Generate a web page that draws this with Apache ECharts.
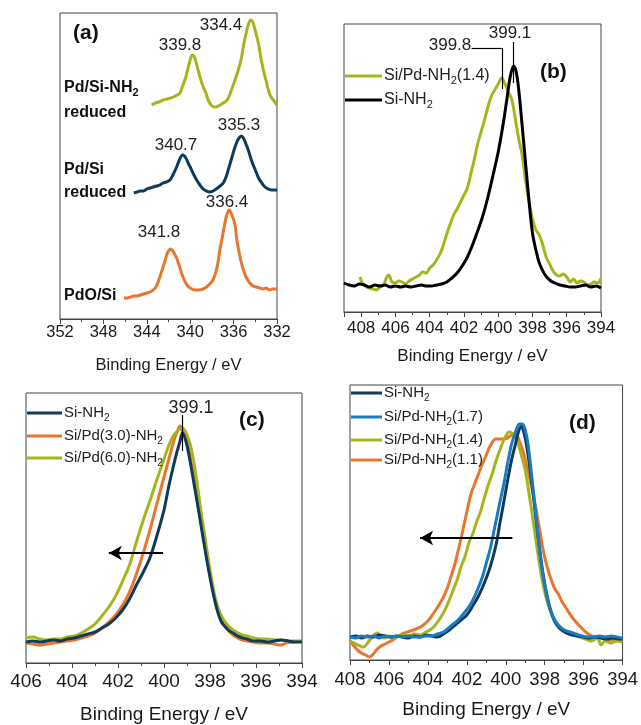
<!DOCTYPE html>
<html>
<head>
<meta charset="utf-8">
<script src="https://cdn.jsdelivr.net/npm/echarts@6/dist/echarts.min.js"></script>
<style>
html,body{margin:0;padding:0;background:#fff;}
#chart{width:641px;height:725px;}
</style>
</head>
<body>
<div id="chart"></div>
<script>
// ---------- DATA (binding energy eV, intensity a.u.) ----------
// Panel (a) Pd 3d
const aPdSiNH2 = [[343.55,214],[343.2,216],[342.9,217],[342.5,219],[342.1,220],[341.8,221],[341.55,222],[341.2,224],[340.94,226],[340.7,233],[340.4,242],[340.15,253],[339.95,261],[339.8,264],[339.6,262],[339.35,252],[339.1,242],[338.8,232],[338.55,226],[338.3,218],[338,213],[337.7,212],[337.4,213],[337.1,215],[336.8,217],[336.6,219],[336.4,223],[336.2,229],[335.9,238],[335.57,249],[335.3,260],[335.04,276],[334.8,288],[334.6,296],[334.4,299],[334.2,296],[334,288],[333.72,276],[333.5,262],[333.26,249],[333,238],[332.8,229],[332.6,223],[332.34,219],[332,214]];
const aPdSi = [[345.2,126],[344.9,127],[344.6,128],[344.3,128],[344,130],[343.7,131],[343.4,132],[343.1,133],[342.8,134],[342.5,136],[342.2,137],[341.86,139],[341.55,145],[341.25,152],[341,159],[340.7,164],[340.4,161],[340.15,155],[340,152],[339.7,145],[339.4,139],[339.1,134],[338.8,130],[338.5,128],[338.2,127],[337.9,128],[337.6,130],[337.25,133],[336.95,136],[336.7,142],[336.5,149],[336.2,160],[335.96,169],[335.7,177],[335.5,181],[335.3,183],[335.1,181],[334.9,176],[334.65,169],[334.3,157],[334,149],[333.7,141],[333.4,136],[333.1,132],[332.8,130],[332.5,129],[332,129]];
const aPdOSi = [[346.1,21],[345.8,21],[345.5,22],[345.2,23],[344.9,23],[344.6,24],[344.3,25],[344,26],[343.7,27],[343.4,29],[343.1,33],[342.8,42],[342.5,52],[342.3,59],[342.1,66],[341.8,70],[341.6,68],[341.4,64],[341.25,61],[341,53],[340.8,46],[340.5,38],[340.3,34],[340,31],[339.55,29],[339.2,29],[338.8,30],[338.5,32],[338.2,35],[337.9,39],[337.7,45],[337.5,53],[337.25,70],[337,84],[336.8,96],[336.6,105],[336.4,109],[336.2,105],[335.9,96],[335.7,79],[335.57,71],[335.3,57],[335.1,49],[334.8,41],[334.5,36],[334.2,33],[333.9,32],[333.6,31],[333.3,30],[333,31],[332.7,29],[332.4,30],[332,30]];
// Panel (b) N 1s
const bSiNH2 = [[409,29],[408.7,27],[408.4,26],[408.1,28],[407.8,27],[407.5,25],[407.2,27],[406.9,26],[406.6,27],[406.3,25],[406,26],[405.7,25],[405.4,26],[405.1,25],[404.8,26],[404.5,27],[404.2,26],[403.9,26],[403.6,27],[403.3,28],[403,30],[402.7,34],[402.4,39],[402.1,46],[401.8,55],[401.5,67],[401.2,81],[400.9,96],[400.6,115],[400.3,137],[400,160],[399.7,189],[399.5,212],[399.3,235],[399.1,246],[398.95,240],[398.8,222],[398.6,186],[398.4,148],[398.2,111],[398,79],[397.8,62],[397.6,49],[397.3,38],[397,32],[396.7,29],[396.4,27],[396.1,26],[395.8,25],[395.5,25],[395.2,26],[394.9,27],[394.6,25],[394.3,26],[394,24]];
const bSiPd14 = [[408.07,35],[407.9,28],[407.7,25],[407.5,24],[407.3,23],[407.1,22],[406.9,25],[406.7,27],[406.5,35],[406.4,37],[406.2,30],[406,29],[405.8,31],[405.6,30],[405.4,28],[405.2,31],[405,33],[404.8,35],[404.6,37],[404.4,40],[404.2,39],[404,44],[403.8,47],[403.6,52],[403.4,58],[403.2,67],[403,78],[402.8,88],[402.6,97],[402.4,103],[402.2,110],[402,117],[401.8,124],[401.6,138],[401.4,152],[401.2,168],[401,180],[400.8,192],[400.6,205],[400.4,216],[400.2,222],[400,228],[399.8,234],[399.6,228],[399.4,220],[399.2,212],[399,193],[398.8,173],[398.6,157],[398.4,131],[398.2,110],[398,93],[397.8,82],[397.6,77],[397.4,67],[397.2,55],[397,48],[396.8,41],[396.6,37],[396.4,36],[396.2,38],[396,35],[395.8,30],[395.6,33],[395.4,29],[395.2,31],[395,30],[394.8,27],[394.6,28],[394.4,30],[394.2,29],[394,34]];
// Panel (c)
const cSiNH2 = [[406,21],[405.7,22],[405.4,21],[405.1,22],[404.8,23],[404.5,22],[404.2,24],[403.9,25],[403.6,27],[403.3,29],[403,31],[402.7,35],[402.4,39],[402.1,45],[401.8,53],[401.5,64],[401.2,78],[400.9,91],[400.6,106],[400.3,128],[400,153],[399.8,176],[399.6,196],[399.45,210],[399.3,222],[399.2,230],[399.05,222],[398.9,206],[398.7,180],[398.5,153],[398.3,125],[398.1,98],[397.9,74],[397.7,54],[397.5,41],[397.2,33],[397,30],[396.7,26],[396.4,24],[396.1,22],[395.8,22],[395.5,21],[395.2,22],[394.9,23],[394.6,22],[394.3,21],[394,21]];
const cSiPd30 = [[406,20],[405.7,19],[405.4,18],[405.1,19],[404.8,20],[404.5,21],[404.2,22],[403.9,23],[403.6,25],[403.3,27],[403,30],[402.7,35],[402.4,41],[402.1,48],[401.8,58],[401.5,71],[401.2,89],[400.9,110],[400.6,134],[400.3,160],[400,186],[399.8,203],[399.6,220],[399.45,230],[399.3,237],[399.15,230],[399,222],[398.8,198],[398.6,172],[398.4,142],[398.2,115],[398,88],[397.8,65],[397.6,48],[397.3,35],[397,28],[396.7,24],[396.4,22],[396.1,21],[395.8,20],[395.5,20],[395.2,19],[394.9,18],[394.7,20],[394.4,21],[394,22]];
const cSiPd60 = [[406,25],[405.7,26],[405.4,24],[405.1,23],[404.8,24],[404.5,24],[404.2,26],[403.9,27],[403.6,30],[403.3,34],[403,39],[402.7,47],[402.4,56],[402.1,67],[401.8,82],[401.5,98],[401.2,121],[400.9,143],[400.6,163],[400.3,184],[400,204],[399.8,217],[399.6,227],[399.4,232],[399.2,235],[399,228],[398.8,213],[398.6,186],[398.4,153],[398.2,123],[398,93],[397.8,68],[397.6,52],[397.4,43],[397.2,37],[397,33],[396.7,29],[396.4,27],[396.1,25],[395.8,24],[395.5,24],[395.2,23],[394.9,23],[394.6,22],[394.3,22],[394,22]];
// Panel (d)
const dSiNH2 = [[408,23],[407.7,24],[407.4,22],[407.1,24],[406.8,23],[406.5,25],[406.2,24],[405.9,23],[405.6,24],[405.3,23],[405,22],[404.7,24],[404.4,23],[404.1,25],[403.8,24],[403.5,23],[403.2,26],[402.9,30],[402.6,35],[402.3,40],[402,45],[401.7,54],[401.4,64],[401.1,77],[400.8,93],[400.5,115],[400.3,137],[400.1,158],[399.9,180],[399.7,200],[399.5,216],[399.35,228],[399.2,234],[399.05,226],[398.9,211],[398.7,183],[398.5,150],[398.3,117],[398.1,88],[397.9,66],[397.7,50],[397.5,39],[397.2,31],[396.9,27],[396.6,25],[396.3,24],[396,23],[395.7,22],[395.4,23],[395.1,22],[394.8,21],[394.5,22],[394.2,21],[394,21]];
const dSiPd17 = [[408,23],[407.7,22],[407.4,24],[407.1,23],[406.8,24],[406.5,22],[406.2,24],[405.9,23],[405.6,24],[405.3,23],[405,24],[404.7,23],[404.4,23],[404.1,24],[403.8,24],[403.5,26],[403.2,28],[403,31],[402.7,36],[402.4,41],[402.1,48],[401.8,56],[401.5,68],[401.2,83],[401,97],[400.8,111],[400.5,139],[400.3,158],[400.1,176],[399.9,197],[399.7,216],[399.5,228],[399.3,236],[399.15,236],[399,230],[398.85,215],[398.6,172],[398.4,135],[398.2,100],[398,75],[397.8,56],[397.6,44],[397.3,35],[397,30],[396.7,28],[396.4,26],[396.1,24],[395.8,23],[395.5,23],[395.2,24],[394.9,23],[394.6,24],[394.3,23],[394,22]];
const dSiPd14 = [[408,18],[407.8,17],[407.6,15],[407.3,13],[407.1,17],[406.9,22],[406.7,26],[406.6,27],[406.4,23],[406.2,22],[406,24],[405.8,22],[405.6,23],[405.3,25],[405,24],[404.7,26],[404.4,25],[404.1,28],[403.9,30],[403.7,33],[403.5,38],[403.3,44],[403.1,51],[402.9,60],[402.7,70],[402.5,80],[402.3,93],[402.1,103],[401.9,117],[401.7,126],[401.5,138],[401.3,148],[401.1,162],[400.9,175],[400.7,186],[400.5,199],[400.3,210],[400.1,220],[399.9,227],[399.8,228],[399.6,225],[399.4,218],[399.2,205],[399,190],[398.8,166],[398.6,140],[398.4,113],[398.2,88],[398,68],[397.8,54],[397.6,45],[397.4,37],[397.1,31],[396.8,28],[396.5,25],[396.2,23],[395.9,21],[395.6,19],[395.3,22],[395.1,15],[394.9,19],[394.6,17],[394.3,19],[394,18]];
const dSiPd11 = [[408,20],[407.8,14],[407.5,8],[407.2,5],[407,3],[406.8,6],[406.6,11],[406.4,14],[406.2,16],[406,18],[405.8,20],[405.5,24],[405.2,27],[404.9,29],[404.6,31],[404.3,34],[404,39],[403.7,47],[403.4,56],[403.2,63],[403,72],[402.8,84],[402.6,97],[402.4,113],[402.2,130],[402,148],[401.8,165],[401.6,176],[401.4,186],[401.2,196],[401,205],[400.8,214],[400.5,221],[400.2,221],[399.9,222],[399.7,225],[399.5,226],[399.3,219],[399.1,208],[398.9,192],[398.6,167],[398.3,135],[398.1,112],[397.9,95],[397.7,82],[397.5,72],[397.3,66],[397.1,58],[396.9,52],[396.6,43],[396.3,36],[396,30],[395.7,25],[395.4,23],[395.1,22],[394.8,21],[394.5,20],[394.2,21],[394,20]];

// Peak labels
const aPeakLabels = ['339.8','334.4','340.7','335.3','341.8','336.4'];
const bPeakLabels = ['399.8','399.1'];
const cPeakLabels = ['399.1'];
// Sample / legend names (rich markup: {s|2} = subscript)
const aSamples = ['Pd/Si-NH{s|2}','reduced','Pd/Si','reduced','PdO/Si'];
const bNames = ['Si/Pd-NH{s|2}(1.4)','Si-NH{s|2}'];
const cNames = ['Si-NH{s|2}','Si/Pd(3.0)-NH{s|2}','Si/Pd(6.0)-NH{s|2}'];
const dNames = ['Si-NH{s|2}','Si/Pd-NH{s|2}(1.7)','Si/Pd-NH{s|2}(1.4)','Si/Pd-NH{s|2}(1.1)'];
const panelTags = ['(a)','(b)','(c)','(d)'];
const xTitle = 'Binding Energy / eV';

// ---------- STYLE ----------
const FONT = "'Liberation Sans', Arial, Helvetica, sans-serif";
const C = {green:'#a8b41c', navy:'#0f3a5c', orange:'#e8762c', blue:'#1b7bc2', black:'#000000'};
const AX = '#444';

const grids = [
  {left:60, top:13, width:217, height:306},
  {left:344, top:24, width:257, height:288},
  {left:26, top:393, width:276, height:270},
  {left:350, top:385, width:273, height:275}
];
const xCfg = [
  {min:332, max:352, interval:4, fs:16.5, margin:5, gap:38, nfs:16.5},
  {min:394, max:409, interval:2, fs:17, margin:8, gap:36, nfs:17},
  {min:394, max:406, interval:2, fs:19, margin:9, gap:42, nfs:19},
  {min:394, max:408, interval:2, fs:18.5, margin:10, gap:40, nfs:19}
];

const xAxis = xCfg.map((c,i)=>({
  type:'value', gridIndex:i, min:c.min, max:c.max, interval:c.interval, inverse:true,
  axisLine:{show:true, onZero:false, lineStyle:{color:AX, width:1}},
  axisTick:{show:true, inside:false, length:5, lineStyle:{color:AX, width:1}},
  minorTick:{show:true, splitNumber:2, length:3, lineStyle:{color:AX, width:1}},
  splitLine:{show:false}, minorSplitLine:{show:false},
  axisLabel:{fontSize:c.fs, color:'#1a1a1a', margin:c.margin, fontFamily:FONT, showMaxLabel: i===1 ? false : null},
  name:xTitle, nameLocation:'middle', nameGap:c.gap,
  nameTextStyle:{fontSize:c.nfs, color:'#1a1a1a', fontFamily:FONT}
}));
const yMax = [306, 288, 270, 275];
const yAxis = yMax.map((m,i)=>({type:'value', gridIndex:i, min:0, max:m, show:false}));

function line(name, data, color, gi, extra){
  return Object.assign({
    type:'line', name, data, xAxisIndex:gi, yAxisIndex:gi,
    showSymbol:false, symbol:'none', smooth:0.35, silent:true,
    lineStyle:{color, width:3}, itemStyle:{color}
  }, extra||{});
}
function leader(segs, arrow){
  return {
    silent:true, animation:false,
    symbol: arrow ? ['none','arrow'] : ['none','none'],
    symbolSize: arrow ? [11,13] : 0,
    label:{show:false},
    lineStyle:{color:'#000', width: arrow ? 2 : 1.2, type:'solid'},
    data: segs.map(s=>[{coord:s[0]},{coord:s[1]}])
  };
}

const series = [
  line('PdO/Si', aPdOSi, C.orange, 0),
  line('Pd/Si reduced', aPdSi, C.navy, 0),
  line('Pd/Si-NH2 reduced', aPdSiNH2, C.green, 0),
  line('Si/Pd-NH2(1.4)', bSiPd14, C.green, 1),
  line('Si-NH2 (b)', bSiNH2, C.black, 1, {markLine: leader([
      [[401.55,264],[399.79,264]], [[399.79,264],[399.79,223]], [[399.15,270],[399.15,229]]
  ])}),
  line('Si/Pd(3.0)-NH2', cSiPd30, C.orange, 2),
  line('Si/Pd(6.0)-NH2', cSiPd60, C.green, 2),
  line('Si-NH2 (c)', cSiNH2, C.navy, 2, {markLine: leader([[[399.19,248],[399.19,212]]])}),
  line('Si/Pd-NH2(1.1)', dSiPd11, C.orange, 3),
  line('Si/Pd-NH2(1.4) (d)', dSiPd14, C.green, 3),
  line('Si-NH2 (d)', dSiNH2, C.navy, 3),
  line('Si/Pd-NH2(1.7)', dSiPd17, C.blue, 3),
  // arrows
  line('arrow c', [], C.black, 2, {markLine: leader([[[400.04,110],[402.4,110]]], true)}),
  line('arrow d', [], C.black, 3, {markLine: leader([[[399.66,122],[404.4,122]]], true)})
];

// ---------- graphic texts ----------
function txt(x, y, text, size, opts){
  opts = opts || {};
  const L = Math.round(size*1.3);
  return {
    type:'text', x, y, silent:true, z:100,
    style:{
      text, fontSize:size, fontFamily:FONT, fontWeight:opts.bold?'bold':'normal',
      fill:opts.fill||'#222', align:opts.align||'left', verticalAlign:'middle', lineHeight:L,
      rich:{ s:{fontSize:Math.round(size*0.68), fontFamily:FONT, fontWeight:opts.bold?'bold':'normal',
                fill:opts.fill||'#222', lineHeight:Math.round(size*0.6), verticalAlign:'bottom'} }
    }
  };
}
function seg(x1,x2,y,color){
  return {type:'line', silent:true, z:100, shape:{x1, y1:y, x2, y2:y}, style:{stroke:color, lineWidth:3}};
}

const graphic = [
  // (a)
  txt(73, 33, panelTags[0], 21, {bold:true, fill:'#111'}),
  txt(180, 45, aPeakLabels[0], 17, {align:'center'}),
  txt(221, 25, aPeakLabels[1], 17, {align:'center'}),
  txt(176, 145, aPeakLabels[2], 17, {align:'center'}),
  txt(239, 125, aPeakLabels[3], 17, {align:'center'}),
  txt(159, 232, aPeakLabels[4], 17, {align:'center'}),
  txt(227, 202, aPeakLabels[5], 17, {align:'center'}),
  txt(64, 88, aSamples[0], 16, {bold:true, fill:'#111'}),
  txt(64, 113, aSamples[1], 16, {bold:true, fill:'#111'}),
  txt(64, 170, aSamples[2], 16, {bold:true, fill:'#111'}),
  txt(64, 193, aSamples[3], 16, {bold:true, fill:'#111'}),
  txt(64, 296, aSamples[4], 16, {bold:true, fill:'#111'}),
  // (b)
  txt(540, 72, panelTags[1], 21, {bold:true, fill:'#111'}),
  txt(450, 45, bPeakLabels[0], 17, {align:'center'}),
  txt(510, 33, bPeakLabels[1], 17, {align:'center'}),
  seg(345, 382, 76, C.green), txt(384, 76, bNames[0], 16),
  seg(345, 382, 100, C.black), txt(384, 100, bNames[1], 16),
  // (c)
  txt(239, 420, panelTags[2], 21, {bold:true, fill:'#111'}),
  txt(191, 408, cPeakLabels[0], 18, {align:'center'}),
  seg(27, 62, 413, C.navy), txt(64, 413, cNames[0], 15),
  seg(27, 62, 436, C.orange), txt(64, 436, cNames[1], 15),
  seg(27, 62, 458, C.green), txt(64, 458, cNames[2], 15),
  // (d)
  txt(569, 423, panelTags[3], 21, {bold:true, fill:'#111'}),
  seg(351, 382, 393, C.navy), txt(384, 393, dNames[0], 15),
  seg(351, 382, 417, C.blue), txt(384, 417, dNames[1], 15),
  seg(351, 382, 440, C.green), txt(384, 440, dNames[2], 15),
  seg(351, 382, 460, C.orange), txt(384, 460, dNames[3], 15)
];

const chart = echarts.init(document.getElementById('chart'), null, {renderer:'canvas'});
chart.setOption({
  animation:false,
  backgroundColor:'#fff',
  textStyle:{fontFamily:FONT},
  grid: grids.map(g=>Object.assign({show:true, borderColor:AX, borderWidth:1, backgroundColor:'transparent', containLabel:false}, g)),
  xAxis, yAxis, series, graphic
});
</script>
</body>
</html>
